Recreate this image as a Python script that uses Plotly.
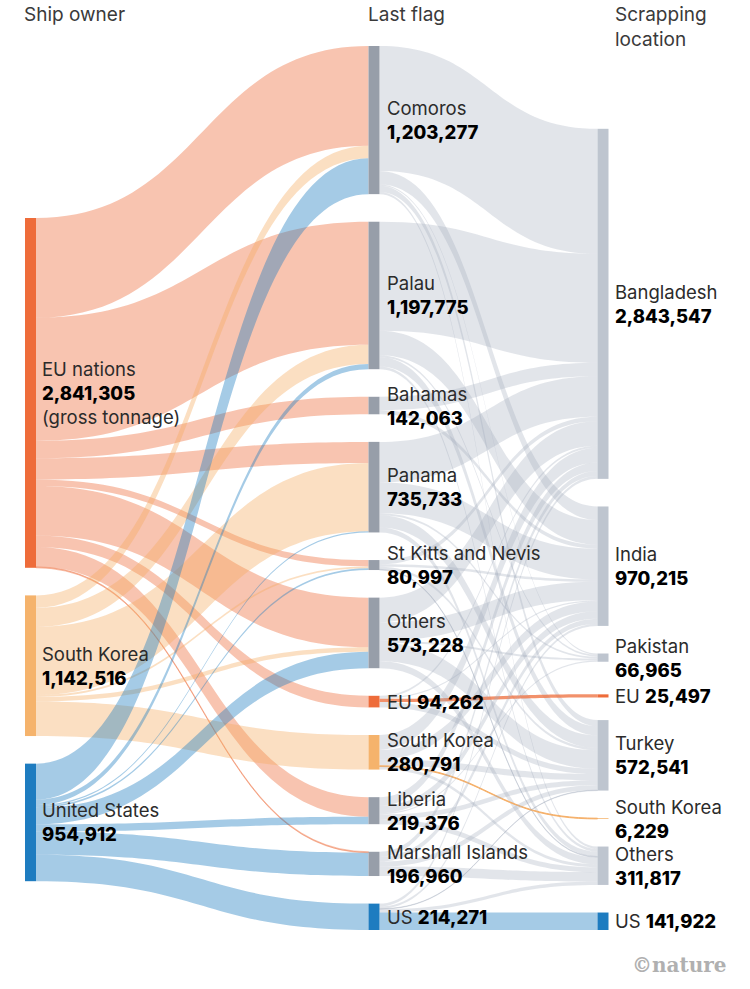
import plotly.graph_objects as go

# ---------------- data ----------------
owners = ["EU nations", "South Korea", "United States"]
owner_tonnage = [2841305, 1142516, 954912]

flags = ["Comoros", "Palau", "Bahamas", "Panama", "St Kitts and Nevis", "Others",
         "EU", "South Korea", "Liberia", "Marshall Islands", "US"]
flag_tonnage = [1203277, 1197775, 142063, 735733, 80997, 573228,
                94262, 280791, 219376, 196960, 214271]

scrap_locations = ["Bangladesh", "India", "Pakistan", "EU", "Turkey",
                   "South Korea", "Others", "US"]
scrap_tonnage = [2843547, 970215, 66965, 25497, 572541, 6229, 311817, 141922]

# owner -> last flag (rows: owners, columns: flags), estimated
owner_to_flag = [
    [810000, 1000000, 142063, 172000, 52000, 402980, 94262, 0, 160000, 8000, 0],
    [101277, 154698, 0, 553733, 14997, 37020, 0, 280791, 0, 0, 0],
    [292000, 43077, 0, 10000, 14000, 133228, 0, 0, 59376, 188960, 214271],
]

# last flag -> scrapping location (rows: flags, columns: scrap locations), estimated
flag_to_scrap = [
    [1015000, 110000, 10000, 0, 50000, 0, 18277, 0],
    [885000, 200000, 15000, 0, 75000, 0, 22775, 0],
    [110000, 32063, 0, 0, 0, 0, 0, 0],
    [330000, 250000, 15733, 0, 100000, 0, 40000, 0],
    [35000, 20000, 0, 0, 20000, 0, 5997, 0],
    [200000, 150000, 16232, 0, 150000, 0, 56996, 0],
    [15000, 10000, 0, 25497, 43765, 0, 0, 0],
    [120000, 80000, 0, 0, 50000, 6229, 24562, 0],
    [70000, 60000, 10000, 0, 40000, 0, 39376, 0],
    [40000, 40000, 0, 0, 40000, 0, 76960, 0],
    [23547, 18152, 0, 0, 3776, 0, 26874, 141922],
]

# ---------------- style ----------------
W, H = 750, 989
ORANGE, LORANGE, BLUE = "#EE6C3A", "#F5B36C", "#1E7CC0"
GRAY_FLAG, GRAY_SCRAP = "#979EA9", "#BEC5CF"
owner_node_col = [ORANGE, LORANGE, BLUE]
owner_link_col = ["rgba(238,108,58,0.40)", "rgba(245,170,95,0.38)", "rgba(30,124,192,0.40)"]
special = {"EU": (ORANGE, "rgba(238,108,58,0.75)"),
           "South Korea": (LORANGE, "rgba(245,170,95,0.85)"),
           "US": (BLUE, "rgba(30,124,192,0.40)")}
GRAY_LINK = "rgba(160,170,185,0.30)"

top_px, bot_px = 46, 930
Hd = bot_px - top_px
pad = 27.6
thick = 11
col_x = [30.5, 374, 603]          # node centres (px)
owner_top = 218 - top_px
scrap_nudge = {"EU": 5}           # small extra vertical offset (px) seen in the original layout
label_x = [40, 385, 613]
FONT = "Inter"
FS = 18.5
NUM = "<span style='font-weight:800;fill:#000'>{}</span>"

total = sum(flag_tonnage)
ky = (Hd - (len(flags) - 1) * pad) / total


def centres(values, start, names=None, nudge=None):
    out, y = [], start
    for idx, v in enumerate(values):
        h = v * ky
        extra = (nudge or {}).get(names[idx], 0) if names else 0
        out.append(y + h / 2 + extra)
        y += h + pad
    return out


owner_c = centres(owner_tonnage, owner_top)
flag_c = centres(flag_tonnage, 0)
scrap_start = Hd - (total * ky + (len(scrap_locations) - 1) * pad)
scrap_c = centres(scrap_tonnage, scrap_start, scrap_locations, scrap_nudge)

n_o, n_f = len(owners), len(flags)
node_x = [col_x[0] / W] * n_o + [col_x[1] / W] * n_f + [col_x[2] / W] * len(scrap_locations)
node_y = [c / Hd for c in owner_c + flag_c + scrap_c]
node_col = (owner_node_col
            + [special.get(f, (GRAY_FLAG,))[0] for f in flags]
            + [special.get(s, (GRAY_SCRAP,))[0] for s in scrap_locations])

src, tgt, val, lcol = [], [], [], []
for i, row in enumerate(owner_to_flag):
    for j, v in enumerate(row):
        if v > 0:
            src.append(i); tgt.append(n_o + j); val.append(v); lcol.append(owner_link_col[i])
for j, row in enumerate(flag_to_scrap):
    for k, v in enumerate(row):
        if v > 0:
            src.append(n_o + j); tgt.append(n_o + n_f + k); val.append(v)
            same = flags[j] == scrap_locations[k] and flags[j] in special
            lcol.append(special[flags[j]][1] if same else GRAY_LINK)

fig = go.Figure(go.Sankey(
    arrangement="fixed",
    domain=dict(x=[0, 1], y=[1 - bot_px / H, 1 - top_px / H]),
    node=dict(label=[""] * len(node_x), x=node_x, y=node_y, color=node_col,
              pad=pad, thickness=thick, line=dict(width=0)),
    link=dict(source=src, target=tgt, value=val, color=lcol),
    hoverinfo="none",
))

annotations = []


def add_label(xpx, ypx, text, anchor="middle"):
    annotations.append(dict(x=xpx / W, y=1 - ypx / H, xref="paper", yref="paper",
                            text=text, showarrow=False, xanchor="left", yanchor=anchor,
                            align="left", font=dict(family=FONT, size=FS, color="#2b2b2b")))


for name, v, c in zip(owners, owner_tonnage, owner_c):
    extra = "<br>(gross tonnage)" if name == "EU nations" else ""
    add_label(label_x[0], top_px + c, f"{name}<br>{NUM.format(f'{v:,}')}{extra}")

single = {"EU", "US"}
for names, vals, cs, lx in ((flags, flag_tonnage, flag_c, label_x[1]),
                            (scrap_locations, scrap_tonnage, scrap_c, label_x[2])):
    for name, v, c in zip(names, vals, cs):
        sep = " " if name in single else "<br>"
        add_label(lx, top_px + c, f"{name}{sep}{NUM.format(f'{v:,}')}")

for xpx, txt in ((22, "Ship owner"), (366, "Last flag"), (613, "Scrapping<br>location")):
    annotations.append(dict(x=xpx / W, y=1 - 1 / H, xref="paper", yref="paper", text=txt,
                            showarrow=False, xanchor="left", yanchor="top", align="left",
                            font=dict(family=FONT, size=FS + 0.5, color="#3a3a3a")))

annotations.append(dict(x=729 / W, y=1 - 965 / H, xref="paper", yref="paper",
                        text="<b>©nature</b>", showarrow=False, xanchor="right", yanchor="middle",
                        font=dict(family="DejaVu Serif", size=20, color="#b0b0b0")))

fig.update_layout(width=W, height=H, autosize=False, margin=dict(l=0, r=0, t=0, b=0),
                  paper_bgcolor="white", plot_bgcolor="white", annotations=annotations,
                  font=dict(family=FONT))

fig.write_html("out.html", config={"displayModeBar": False},
               post_script="document.body.style.margin='0px';")
